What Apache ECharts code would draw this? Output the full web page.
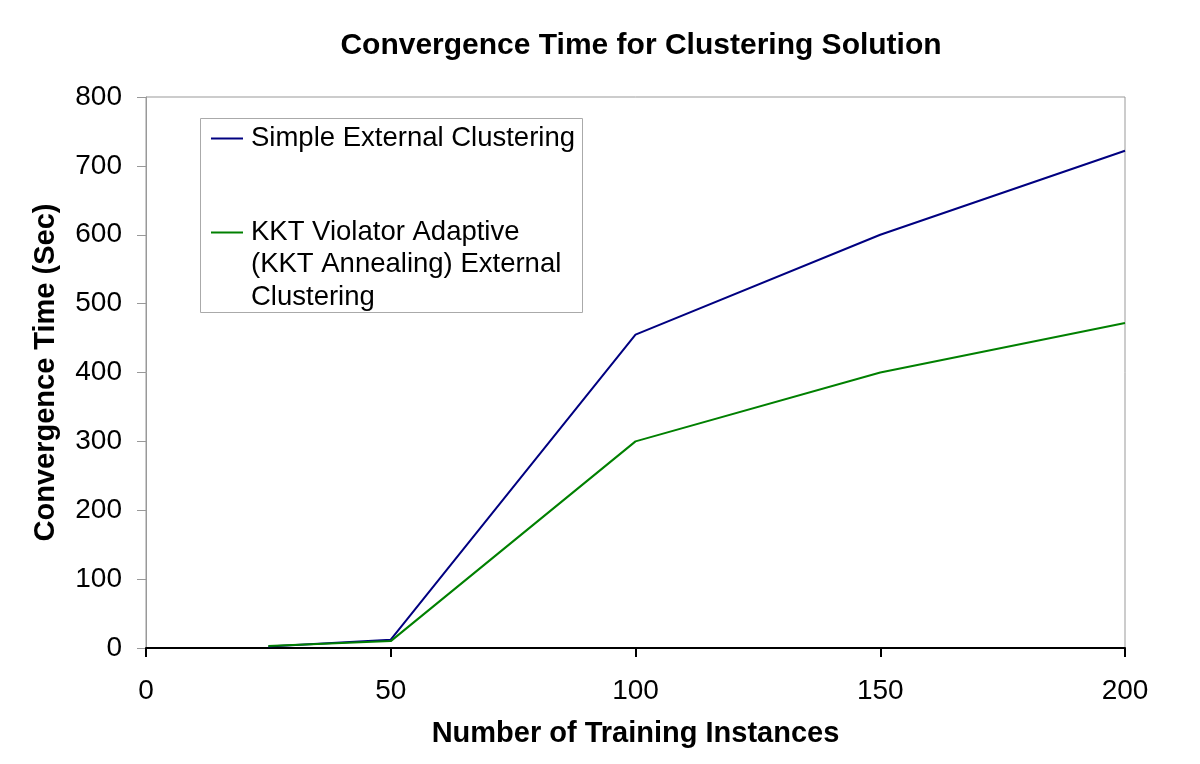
<!DOCTYPE html>
<html>
<head>
<meta charset="utf-8">
<title>Convergence Time for Clustering Solution</title>
<script src="https://cdn.jsdelivr.net/npm/echarts@6/dist/echarts.min.js"></script>
<style>
  html, body { margin: 0; padding: 0; background: #fff; }
  #chart { width: 1200px; height: 764px; }
</style>
</head>
<body>
<div id="chart"></div>
<script>
// data
const instances = [25, 50, 100, 150, 200]
const simpleTimes = [2, 12, 455, 600, 722]
const kktTimes = [3, 10, 300, 400, 472]
const seriesNames = ['Simple External Clustering', 'KKT Violator Adaptive (KKT Annealing) External Clustering']
const legendLines = [['Simple External Clustering'], ['KKT Violator Adaptive', '(KKT Annealing) External', 'Clustering']]
const colors = ['#000080', '#008000']

const font = 'Liberation Sans, Arial, sans-serif'
const chart = echarts.init(document.getElementById('chart'))

// legend box drawn with graphic so the marker lines up with the first text line
const legendItems = []
const legendTops = [122, 216]
legendLines.forEach((lines, i) => {
  const y = legendTops[i]
  legendItems.push({
    type: 'line',
    shape: { x1: 211, y1: y + 16.5, x2: 243, y2: y + 16.5 },
    style: { stroke: colors[i], lineWidth: 2 }
  })
  legendItems.push({
    type: 'text',
    x: 251,
    y: y,
    style: { text: lines.join('\n'), font: '27.5px ' + font, fill: '#000', lineHeight: 32.5 }
  })
})

const option = {
  backgroundColor: '#ffffff',
  animation: false,
  title: {
    text: 'Convergence Time for Clustering Solution',
    left: 636,
    textAlign: 'center',
    top: 26,
    textStyle: { fontFamily: font, fontSize: 30, fontWeight: 'bold', color: '#000' }
  },
  grid: {
    left: 146, right: 75, top: 97, bottom: 116,
    show: true, borderColor: '#999', borderWidth: 1, backgroundColor: '#fff'
  },
  xAxis: {
    type: 'value',
    min: 0, max: 200, interval: 50,
    name: 'Number of Training Instances',
    nameLocation: 'middle',
    nameGap: 71,
    nameTextStyle: { fontFamily: font, fontSize: 29, fontWeight: 'bold', color: '#000' },
    axisLine: { show: true, lineStyle: { color: '#000', width: 2 } },
    axisTick: { show: true, length: 9, lineStyle: { color: '#000', width: 2 } },
    axisLabel: { fontFamily: font, fontSize: 28, color: '#000', margin: 29 },
    splitLine: { show: false }
  },
  yAxis: {
    type: 'value',
    min: 0, max: 800, interval: 100,
    name: 'Convergence Time (Sec)',
    nameLocation: 'middle',
    nameGap: 86,
    nameTextStyle: { fontFamily: font, fontSize: 29, fontWeight: 'bold', color: '#000' },
    axisLine: { show: true, lineStyle: { color: '#999', width: 1 } },
    axisTick: { show: true, length: 9, lineStyle: { color: '#999', width: 1 } },
    axisLabel: { fontFamily: font, fontSize: 28, color: '#000', margin: 24 },
    splitLine: { show: false }
  },
  series: [
    {
      name: seriesNames[0],
      type: 'line',
      data: instances.map((x, i) => [x, simpleTimes[i]]),
      symbol: 'none',
      lineStyle: { color: colors[0], width: 2 },
      z: 3
    },
    {
      name: seriesNames[1],
      type: 'line',
      data: instances.map((x, i) => [x, kktTimes[i]]),
      symbol: 'none',
      lineStyle: { color: colors[1], width: 2 },
      z: 4
    }
  ],
  graphic: [
    {
      type: 'rect',
      shape: { x: 200.5, y: 118.5, width: 382, height: 194 },
      style: { fill: '#fff', stroke: '#aaa', lineWidth: 1 },
      z: 10
    }
  ].concat(legendItems.map(item => Object.assign({ z: 11 }, item)))
}

chart.setOption(option)
window.onresize = chart.resize
</script>
</body>
</html>
